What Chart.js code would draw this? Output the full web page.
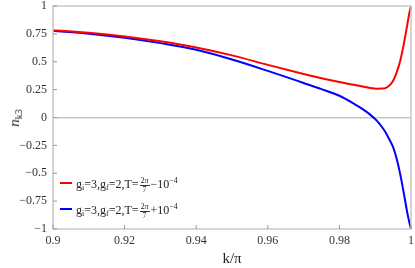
<!DOCTYPE html>
<html>
<head>
<meta charset="utf-8">
<script src="https://cdn.jsdelivr.net/npm/chart.js@4"></script>
<style>
  html, body { margin: 0; padding: 0; background: #fff; }
  #wrap { position: relative; width: 415px; height: 268px; font-family: "Liberation Serif", "Times New Roman", "DejaVu Serif", serif; color: #222; }
  canvas { position: absolute; left: 0; top: 0; }
  #ylab { position: absolute; left: 15px; top: 118px; transform: translate(-50%, -50%) rotate(-90deg); font-size: 15px; white-space: nowrap; }
  #ylab sub { font-size: 10px; font-style: normal; vertical-align: -3px; }
  .leg { position: absolute; left: 60px; font-size: 12px; line-height: 16px; white-space: nowrap; }
  .leg .sw { display: inline-block; width: 12px; height: 2px; margin-right: 4px; vertical-align: 4px; }
  .leg sub { font-size: 8px; vertical-align: -2px; line-height: 0; }
  .leg sup { font-size: 8px; vertical-align: 5px; line-height: 0; }
  .frac { display: inline-block; text-align: center; font-size: 8px; line-height: 8px; vertical-align: -4px; margin: 0 1px; }
  .frac span { display: block; }
  .frac .num { border-bottom: 0.8px solid #333; padding: 0 1px; }
</style>
</head>
<body>
<div id="wrap">
  <canvas id="myChart" width="415" height="268"></canvas>
  <div id="ylab"><i>n</i><sub>k3</sub></div>
  <div class="leg" style="top:176px"><span class="sw" style="background:#ff0000"></span>g<sub>i</sub>=3,g<sub>f</sub>=2,T=<span class="frac"><span class="num">2<i>π</i></span><span>7</span></span>&minus;10<sup>&minus;4</sup></div>
  <div class="leg" style="top:202px"><span class="sw" style="background:#0000ff"></span>g<sub>i</sub>=3,g<sub>f</sub>=2,T=<span class="frac"><span class="num">2<i>π</i></span><span>7</span></span>+10<sup>&minus;4</sup></div>
</div>
<script>
// values
var kValues = [0.9, 0.91, 0.92, 0.93, 0.94, 0.95, 0.96, 0.97, 0.975, 0.98, 0.984, 0.9865, 0.9885, 0.9905, 0.992, 0.993, 0.994, 0.995, 0.996, 0.997, 0.998, 0.999, 0.9995, 1.0];
var redValues = [0.783, 0.76, 0.727, 0.683, 0.628, 0.557, 0.472, 0.39, 0.352, 0.318, 0.293, 0.278, 0.265, 0.258, 0.259, 0.266, 0.288, 0.33, 0.405, 0.51, 0.66, 0.84, 0.93, 1.0];
var blueValues = [0.777, 0.752, 0.716, 0.667, 0.607, 0.52, 0.418, 0.31, 0.255, 0.195, 0.125, 0.075, 0.028, -0.03, -0.09, -0.14, -0.2, -0.265, -0.37, -0.51, -0.68, -0.86, -0.935, -1.0];
var xTicks = [0.9, 0.92, 0.94, 0.96, 0.98, 1];
var yTicks = [-1, -0.75, -0.5, -0.25, 0, 0.25, 0.5, 0.75, 1];

function pts(ys) {
  return kValues.map(function (k, i) { return { x: k, y: ys[i] }; });
}
function fmt(v) {
  var s = String(+v.toFixed(2));
  return v < 0 ? '\u2212' + s.slice(1) : s;
}

var serif = "'Liberation Serif', 'Times New Roman', 'DejaVu Serif', serif";
var frameColor = '#c8c8c8';

// frame box and inward tick marks
var framePlugin = {
  id: 'frame',
  afterDraw: function (chart) {
    var c = chart.ctx, a = chart.chartArea;
    c.save();
    c.strokeStyle = frameColor;
    c.lineWidth = 1.5;
    c.strokeRect(a.left, a.top, a.right - a.left, a.bottom - a.top);
    c.strokeStyle = '#999';
    c.lineWidth = 1;
    yTicks.forEach(function (v) {
      var y = chart.scales.y.getPixelForValue(v);
      c.beginPath(); c.moveTo(a.left, y); c.lineTo(a.left + 4, y); c.stroke();
    });
    xTicks.forEach(function (v) {
      var x = chart.scales.x.getPixelForValue(v);
      c.beginPath(); c.moveTo(x, a.bottom); c.lineTo(x, a.bottom - 4); c.stroke();
    });
    c.restore();
  }
};

var ctx = document.getElementById('myChart');
var myChart = new Chart(ctx, {
  type: 'line',
  data: {
    datasets: [{
      label: 'red',
      data: pts(redValues),
      borderColor: '#ff0000',
      borderWidth: 2,
      pointRadius: 0,
      cubicInterpolationMode: 'monotone',
      clip: false
    }, {
      label: 'blue',
      data: pts(blueValues),
      borderColor: '#0000ff',
      borderWidth: 2,
      pointRadius: 0,
      cubicInterpolationMode: 'monotone',
      clip: false
    }]
  },
  options: {
    responsive: false,
    animation: false,
    layout: { padding: { top: 6, right: 4, left: 0, bottom: 0 } },
    plugins: { legend: { display: false }, tooltip: { enabled: false } },
    scales: {
      x: {
        type: 'linear',
        min: 0.9,
        max: 1,
        afterBuildTicks: function (s) { s.ticks = xTicks.map(function (v) { return { value: v }; }); },
        afterFit: function (s) { s.height = 39; s.paddingLeft = 0; s.paddingRight = 0; },
        ticks: {
          callback: function (v) { return fmt(v); },
          font: { family: serif, size: 12 },
          color: '#333',
          padding: 5,
          maxRotation: 0
        },
        grid: { display: false, drawTicks: false },
        border: { display: false },
        title: {
          display: true,
          text: 'k/\u03c0',
          font: { family: serif, size: 15 },
          color: '#222',
          padding: { top: 0, bottom: 0 }
        }
      },
      y: {
        min: -1,
        max: 1,
        afterBuildTicks: function (s) { s.ticks = yTicks.map(function (v) { return { value: v }; }); },
        afterFit: function (s) { s.width = 53; s.paddingTop = 0; s.paddingBottom = 0; },
        ticks: {
          callback: function (v) { return fmt(v); },
          font: { family: serif, size: 12 },
          color: '#333',
          padding: 6
        },
        grid: {
          color: function (c) { return c.tick && c.tick.value === 0 ? frameColor : 'transparent'; },
          lineWidth: 1.5,
          drawTicks: false
        },
        border: { display: false }
      }
    }
  },
  plugins: [framePlugin]
});
</script>
</body>
</html>
